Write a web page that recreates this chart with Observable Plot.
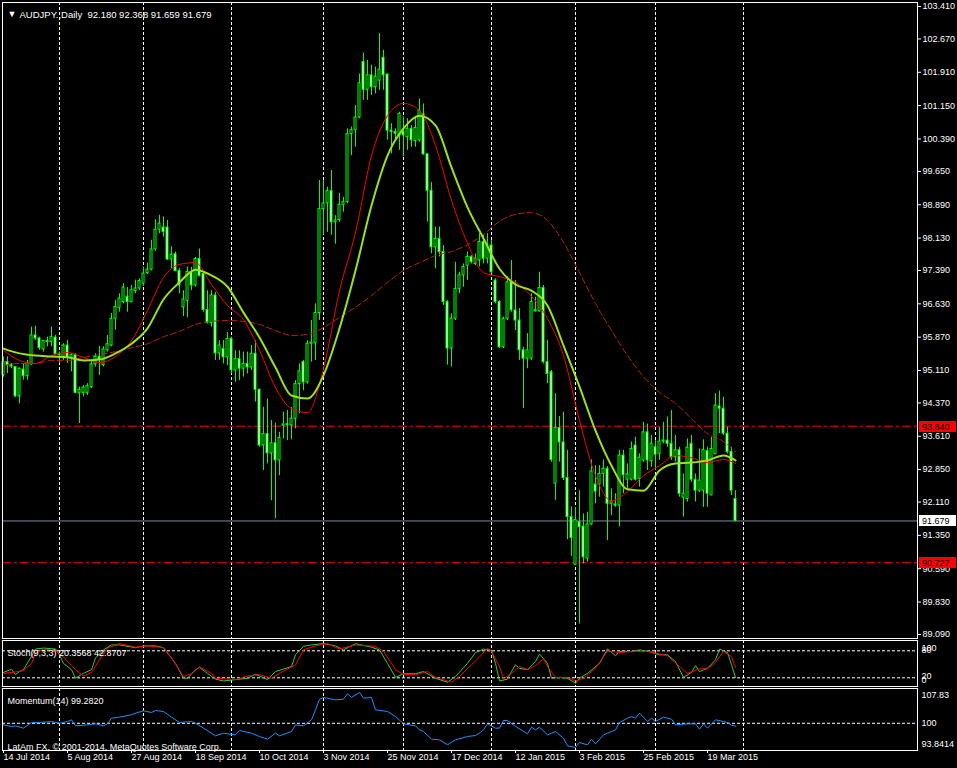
<!DOCTYPE html>
<html><head><meta charset="utf-8">
<script src="https://cdn.jsdelivr.net/npm/d3@7"></script>
<script src="https://cdn.jsdelivr.net/npm/@observablehq/plot@0.6"></script>
<style>
html,body{margin:0;padding:0;background:#000;overflow:hidden;}
#chart{position:relative;width:957px;height:768px;background:#000;overflow:hidden;}
#chart svg{position:absolute;left:0;display:block;}
</style></head><body><div id="chart"></div>
<script>
// ---------- DATA ----------
const opens = [95.00,95.30,95.23,95.19,94.52,95.13,94.98,95.25,95.91,95.84,
95.59,95.78,95.76,95.86,95.49,95.42,95.68,95.40,95.46,94.60,
94.60,94.60,94.73,95.25,95.42,95.23,95.57,95.68,96.29,96.54,
96.67,96.79,96.67,96.92,96.98,97.09,97.33,97.41,97.87,98.32,
98.37,98.37,97.64,97.76,97.38,96.55,96.70,97.35,97.05,97.65,
97.31,96.49,96.19,96.82,95.50,95.60,95.41,95.83,95.11,95.37,
95.15,95.26,95.18,95.49,94.67,93.40,93.66,93.22,93.45,93.06,
93.85,93.88,93.86,94.01,94.80,95.30,94.84,95.72,95.73,96.42,
98.79,98.92,99.20,98.49,98.54,98.89,98.95,100.50,100.59,100.88,
102.14,101.51,101.84,101.57,101.72,102.24,101.86,100.58,100.55,100.47,
100.55,100.43,100.62,100.34,100.36,100.96,100.04,99.21,97.92,98.11,
97.81,96.67,95.61,96.29,96.97,97.28,97.50,97.70,97.54,97.62,
98.04,97.66,97.96,97.16,96.67,95.64,96.29,97.12,96.48,96.25,
95.57,95.38,95.38,96.46,96.46,96.99,95.30,95.07,92.53,93.80,
93.47,92.66,91.77,90.68,91.65,91.55,90.82,91.60,92.51,92.51,
92.75,92.87,92.07,92.05,92.03,93.17,92.62,92.62,93.40,92.64,
93.06,93.70,93.04,93.36,93.21,93.49,93.51,93.44,93.13,93.29,
92.21,92.18,93.44,92.62,92.37,92.37,93.27,92.26,93.20,94.29,
94.24,93.67,93.25,92.18];
const highs = [95.42,95.42,95.27,95.20,95.17,95.27,95.34,96.10,96.12,95.87,
95.80,95.87,96.10,95.91,95.53,95.72,95.80,95.49,95.49,94.73,
94.77,94.81,95.34,95.49,95.66,95.65,95.91,96.41,96.71,96.86,
97.09,97.00,97.05,97.17,97.20,97.47,97.56,98.08,98.55,98.65,
98.61,98.53,97.93,97.81,97.43,96.93,97.47,97.46,97.69,97.88,
97.33,96.93,96.93,96.89,95.79,95.79,95.98,95.87,95.56,95.56,
95.53,95.53,95.68,95.79,94.69,94.27,94.46,93.97,93.91,93.70,
94.16,94.20,94.27,94.88,95.26,95.34,95.79,96.25,96.63,99.44,
99.44,99.29,99.67,98.64,99.15,99.06,100.62,100.66,101.15,101.87,
102.35,102.18,102.07,102.03,102.79,102.41,101.87,100.74,100.62,101.00,
100.89,100.85,100.70,100.89,101.30,101.19,100.05,99.40,98.38,98.38,
97.96,96.71,96.40,97.58,97.35,97.54,97.81,97.73,97.77,98.23,
98.19,98.23,98.07,97.20,96.71,96.33,97.24,97.62,97.16,96.52,
95.64,95.95,96.86,96.78,97.35,97.05,95.80,95.11,94.58,94.06,
94.16,93.29,92.00,91.99,92.37,91.84,91.88,93.07,92.94,92.94,
93.07,92.92,92.41,92.30,93.29,93.29,92.98,93.48,93.59,93.21,
93.93,93.89,93.63,93.51,93.82,93.93,94.05,94.20,93.63,93.36,
92.75,93.55,93.63,92.75,93.32,93.53,93.36,93.59,94.58,94.64,
94.50,93.82,93.36,92.368];
const lows = [94.96,95.04,95.15,94.49,94.35,94.89,94.89,95.23,95.80,95.57,
95.53,95.65,95.65,95.46,95.27,95.34,95.27,95.08,94.58,93.90,
94.51,94.54,94.70,95.19,95.00,95.19,95.53,95.65,96.03,96.44,
96.63,96.44,96.65,96.86,96.94,97.03,97.30,97.38,97.83,98.23,
98.15,97.62,97.43,97.36,96.86,96.34,96.31,96.93,97.01,97.24,
96.44,96.17,96.10,95.34,95.34,95.26,95.22,95.03,94.84,94.88,
94.96,95.03,95.11,94.39,93.36,92.83,92.98,92.14,91.73,92.71,
93.55,93.51,93.53,93.78,94.12,94.65,94.80,95.30,95.34,96.25,
98.19,98.26,98.19,97.99,98.49,98.72,98.91,100.01,100.20,100.85,
101.27,101.27,101.38,101.42,101.50,101.50,100.36,100.05,100.36,100.13,
99.98,100.13,100.20,100.20,100.32,100.01,98.49,97.77,97.43,97.70,
96.59,95.23,95.19,96.25,96.86,97.01,97.16,97.54,97.50,97.47,
97.54,97.54,97.31,96.63,95.61,95.61,96.25,96.44,96.02,95.34,
94.24,95.15,95.34,96.44,96.44,95.26,94.81,93.02,92.15,93.02,
92.60,91.25,90.87,90.66,89.33,90.70,90.74,91.58,92.07,92.22,
92.45,91.23,91.80,91.99,91.54,92.30,92.37,92.59,92.59,92.45,
93.02,92.83,92.90,92.83,93.06,93.44,93.36,93.06,93.02,92.22,
91.77,92.11,92.56,92.11,92.33,91.99,91.99,92.26,93.20,93.67,
93.63,93.21,92.26,91.659];
const closes = [95.30,95.23,95.20,94.52,95.15,94.98,95.27,95.91,95.84,95.62,
95.78,95.76,95.87,95.49,95.46,95.68,95.40,95.46,94.60,94.67,
94.72,94.75,95.25,95.42,95.36,95.59,95.71,96.29,96.56,96.75,
97.00,96.67,96.94,96.98,97.15,97.32,97.41,97.87,98.32,98.46,
98.27,97.64,97.75,97.38,97.05,96.73,97.36,97.05,97.65,97.27,
96.49,96.19,96.82,95.50,95.68,95.41,95.83,95.11,95.37,95.15,
95.26,95.18,95.49,94.67,93.40,93.66,93.22,93.45,93.06,93.57,
93.88,93.86,94.01,94.80,95.09,94.84,95.72,95.75,96.42,98.79,
98.92,99.20,98.49,98.53,98.89,98.95,100.50,100.59,100.88,101.66,
101.51,101.84,101.57,101.81,101.97,101.84,100.58,100.55,100.51,100.96,
100.47,100.62,100.36,100.64,101.04,100.04,99.21,97.92,98.11,97.81,
96.67,95.61,96.29,96.97,97.28,97.47,97.70,97.58,97.66,98.04,
97.66,97.96,97.35,96.67,95.64,96.29,97.12,96.48,96.25,95.57,
95.38,95.57,96.67,96.49,96.99,95.30,95.03,93.07,93.80,93.47,
92.66,91.77,91.29,91.70,91.54,90.85,91.60,92.81,92.35,92.75,
92.87,92.07,92.13,92.03,93.17,92.72,92.74,93.32,92.62,93.12,
93.70,93.06,93.44,93.19,93.49,93.51,93.44,93.13,93.29,92.30,
92.30,93.35,92.62,92.37,92.60,93.30,92.30,93.32,94.31,94.24,
93.67,93.25,92.37,91.679];

// moving averages at every 4th bar
const maBars = [0,4,8,12,16,20,24,28,32,36,40,44,48,52,56,60,64,68,72,76,80,84,88,92,96,100,104,108,112,116,120,124,128,132,136,140,144,148,152,156,160,164,168,172,176,180,183];
const maSlow = [95.61,95.50,95.45,95.43,95.41,95.34,95.36,95.50,95.72,96.07,96.73,97.12,97.41,97.28,97.02,96.43,95.86,95.18,94.54,94.47,95.00,96.07,97.39,98.87,100.01,100.63,100.92,100.70,99.74,98.83,98.12,97.43,97.07,96.93,96.59,95.68,94.74,93.74,92.94,92.40,92.37,92.83,92.99,93.01,93.06,93.17,93.06];
const maFast = [95.57,95.34,95.27,95.45,95.52,95.41,95.29,95.43,95.79,96.48,97.23,97.53,97.57,97.07,96.59,96.27,95.57,94.72,94.24,94.15,95.15,96.93,98.26,100.01,100.92,101.20,101.04,100.24,98.99,98.01,97.34,97.25,97.12,96.80,96.29,95.45,93.97,92.71,92.14,92.35,92.71,92.94,93.17,93.12,93.01,93.08,92.99];
const maLong = [95.22,95.27,95.27,95.34,95.34,95.41,95.47,95.54,95.63,95.72,95.88,96.00,96.16,96.23,96.25,96.23,96.16,96.02,95.91,95.93,96.09,96.32,96.55,96.82,97.12,97.39,97.57,97.73,97.82,97.98,98.21,98.51,98.67,98.71,98.53,98.03,97.34,96.64,96.02,95.45,94.97,94.61,94.36,94.01,93.67,93.49,93.26];

// stochastic (9,3,3)
const kBars = [0,2,3,4,5,7,8,10,13,14,15,17,18,20,22,23,25,27,29,33,35,38,40,43,45,46,48,49,51,53,55,58,61,63,66,68,72,73,75,77,80,83,85,88,92,94,96,98,100,103,105,108,111,113,116,118,120,122,123,124,126,127,128,129,131,133,134,136,137,139,141,143,144,146,149,151,153,154,157,159,161,164,166,168,170,172,173,174,176,178,179,181,182,183];
const kVals = [32,39,27,34,38,68,84,86,84,71,52,38,19,30,38,64,82,93,93,87,91,91,87,52,19,19,38,43,30,17,13,16,19,28,16,34,45,71,90,93,96,91,82,96,88,82,52,21,29,29,34,19,10,23,52,76,84,81,52,13,17,34,49,41,38,56,73,52,19,21,19,8,19,30,52,84,69,79,78,82,79,71,71,56,21,32,47,34,41,60,84,76,49,20.3568];
const dBars = [0,3,5,7,8,10,13,15,18,20,22,24,26,29,33,36,40,42,45,47,49,52,53,58,61,64,67,69,73,75,78,81,84,88,93,95,98,100,103,106,108,112,114,117,119,121,122,124,125,127,129,131,133,135,136,138,141,143,145,148,151,154,157,161,164,166,169,171,174,176,178,180,182,183];
const dVals = [30,33,36,52,75,84,81,66,38,24,32,60,86,96,88,91,87,64,23,29,44,30,19,16,24,27,19,30,49,82,91,96,84,93,90,79,38,27,27,34,21,10,23,49,66,86,79,45,17,30,45,38,47,62,45,21,21,13,19,41,80,76,79,79,73,69,45,30,40,40,54,79,67,42.8707];

// momentum (14)
const mBars = [0,2,3,5,7,9,12,14,16,17,18,21,23,25,26,27,29,32,33,35,37,38,40,42,44,47,48,50,53,55,58,59,62,64,66,68,69,72,73,75,77,78,79,80,83,85,86,87,89,90,92,93,96,98,100,103,104,105,107,109,111,113,116,118,119,120,121,123,124,125,126,128,131,132,133,134,136,137,138,140,141,143,144,146,147,148,150,151,153,154,156,157,158,159,161,162,163,165,167,168,171,173,174,175,176,178,180,181,182,183];
const mVals = [99.60,99.18,99.35,98.76,100.2,100.2,100.45,100.0,100.45,100.88,99.35,99.60,99.86,99.35,99.86,101.3,101.56,102.16,102.57,103.17,102.74,103.25,103.0,101.56,100.2,100.45,100.03,98.76,96.81,97.48,97.06,98.16,97.48,96.64,95.96,97.48,96.81,97.91,99.60,99.35,100.88,103.42,106.13,106.56,105.96,106.13,107.49,106.56,107.83,106.39,106.56,103.42,103.0,101.73,99.86,99.35,98.33,97.91,95.96,95.79,94.52,95.79,96.64,96.9,97.5,98.33,99.86,98.76,98.76,100.71,100.71,99.18,97.31,99.01,98.33,99.01,97.06,97.48,97.91,96.21,94.26,93.8414,95.11,94.52,95.96,94.77,97.06,97.48,98.33,100.2,101.3,101.73,101.3,102.57,100.45,101.3,100.45,101.56,101.05,99.60,99.86,99.86,98.50,99.86,98.76,100.88,100.45,100.2,99.5,99.282];

// axes / labels
const priceTicks = [103.41,102.67,101.91,101.15,100.39,99.65,98.89,98.13,97.39,96.63,95.87,95.11,94.37,93.61,92.85,92.11,91.35,90.59,89.83,89.09];
const dateTickBars = [0,16,32,48,64,80,96,112,128,144,160,176];
const dateLabels = ["14 Jul 2014","5 Aug 2014","27 Aug 2014","18 Sep 2014","10 Oct 2014","3 Nov 2014","25 Nov 2014","17 Dec 2014","12 Jan 2015","3 Feb 2015","25 Feb 2015","19 Mar 2015"];
const monthStartBars = [14,35,57,80,100,122,143,163,185];
const levelLines = [93.840, 90.727];
const lastPrice = 91.679;
const titleText = "AUDJPY.,Daily\u00a0\u00a092.180 92.368 91.659 91.679";
const stochTitle = "Stoch(9,3,3) 20.3568 42.8707";
const momTitle = "Momentum(14) 99.2820";
const copyright = "LatAm FX, \u00a9 2001-2014, MetaQuotes Software Corp.";

// ---------- BUILD ----------
const bars = opens.map((o,i)=>({i, o, h:highs[i], l:lows[i], c:closes[i]}));
const maRows = maBars.map((b,j)=>({i:b, slow:maSlow[j], fast:maFast[j], long:maLong[j]}));
const kRows = kBars.map((b,j)=>({i:b, v:kVals[j]}));
const dRows = dBars.map((b,j)=>({i:b, v:dVals[j]}));
const mRows = mBars.map((b,j)=>({i:b, v:mVals[j]}));

const FONT = '"Liberation Sans", Arial, sans-serif';
const style = {background:"transparent", color:"#fff", fontFamily:FONT, fontSize:"9px"};
const xs = {type:"linear", domain:[0,183], range:[3,735]};
const grid = {x:d=>d, stroke:"#fff", strokeDasharray:"3,2", strokeWidth:1};
const txt = {fill:"#fff", fontSize:9, textAnchor:"start"};
const sideLabel = (v, t, dy) => Plot.text([v], {y:d=>d, text:()=>t, frameAnchor:"right", dx:4, dy, ...txt});

const chart = document.getElementById("chart");

const main = Plot.plot({
  width:957, height:640, marginTop:2, marginBottom:2, marginLeft:2, marginRight:40,
  style,
  x:{...xs, axis:null},
  y:{domain:[89.09,103.41], range:[634,6], axis:"right", ticks:priceTicks, tickFormat:d=>d.toFixed(3), tickSize:3, tickPadding:2, label:null},
  color:{type:"identity"},
  marks:[
    Plot.ruleX(monthStartBars, grid),
    Plot.ruleY(levelLines, {y:d=>d, stroke:"#ff0000", strokeDasharray:"9,3,3,3"}),
    Plot.ruleY([lastPrice], {y:d=>d, stroke:"#7f8c9c"}),
    Plot.ruleX(bars, {x:"i", y1:"l", y2:"h", stroke:"#00ff00"}),
    Plot.rect(bars, {
      x1:d=>d.i-0.25, x2:d=>d.i+0.25,
      y1:d=>Math.min(d.o,d.c), y2:d=>Math.max(Math.max(d.o,d.c), Math.min(d.o,d.c)+0.025),
      fill:d=>d.c<d.o ? "#ffffff" : "#000000", stroke:"#00ff00", strokeWidth:1
    }),
    Plot.line(maRows, {x:"i", y:"long", stroke:"#b8221f", strokeWidth:1, strokeDasharray:"6,3", curve:"monotone-x"}),
    Plot.line(maRows, {x:"i", y:"fast", stroke:"#ff0000", strokeWidth:1, curve:"monotone-x"}),
    Plot.line(maRows, {x:"i", y:"slow", stroke:"#9be21c", strokeWidth:2, curve:"monotone-x"}),
    Plot.frame({stroke:"#fff"}),
    Plot.text(["\u25BC"], {text:d=>d, frameAnchor:"top-left", dx:5, dy:8.5, fill:"#fff", fontSize:9, textAnchor:"start"}),
    Plot.text([titleText], {text:d=>d, frameAnchor:"top-left", dx:17, dy:9, ...txt, fontSize:9.5})
  ]
});
main.style.top = "0px";
chart.appendChild(main);

// price tags on the right scale
const yPix = d3.scaleLinear().domain([89.09,103.41]).range([634,6]);
const tags = [{v:levelLines[0], bg:"#ff0000"}, {v:lastPrice, bg:"#ffffff"}, {v:levelLines[1], bg:"#ff0000"}];
const tg = d3.select(main).append("g").attr("text-anchor","start");
tags.forEach(t=>{
  const y = Math.round(yPix(t.v));
  tg.append("rect").attr("x",919).attr("y",y-5).attr("width",37).attr("height",11).attr("fill",t.bg);
  tg.append("text").attr("x",922).attr("y",y+0.5).attr("dy","0.36em").attr("fill","#000")
    .attr("text-anchor","start").attr("font-family",FONT).attr("font-size",9).text(t.v.toFixed(3));
});

const stoch = Plot.plot({
  width:957, height:48, marginTop:0, marginBottom:2, marginLeft:2, marginRight:40,
  style,
  x:{...xs, axis:null},
  y:{domain:[0,100], range:[46.3,1.3], axis:null},
  marks:[
    Plot.ruleX(monthStartBars, grid),
    Plot.ruleY([80,20], {y:d=>d, stroke:"#fff", strokeDasharray:"3,2"}),
    Plot.line(kRows, {x:"i", y:"v", stroke:"#32cd32", strokeWidth:1}),
    Plot.line(dRows, {x:"i", y:"v", stroke:"#ff0000", strokeWidth:1}),
    Plot.frame({stroke:"#fff"}),
    Plot.text([stochTitle], {text:d=>d, frameAnchor:"top-left", dx:5, dy:9.5, ...txt}),
    sideLabel(100, "100", 6.5),
    sideLabel(80, "80", -0.5),
    sideLabel(20, "20", -1.5),
    sideLabel(0, "0", -6.5)
  ]
});
stoch.style.top = "640px";
chart.appendChild(stoch);

const mom = Plot.plot({
  width:957, height:80, marginTop:0, marginBottom:18, marginLeft:2, marginRight:40,
  style,
  x:{...xs, axis:"bottom", ticks:dateTickBars, tickFormat:()=>"", tickSize:3, label:null},
  y:{domain:[93.8414,107.83], range:[59,4], axis:null},
  marks:[
    Plot.ruleX(monthStartBars, grid),
    Plot.ruleY([100], {y:d=>d, stroke:"#fff", strokeDasharray:"3,2"}),
    Plot.line(mRows, {x:"i", y:"v", stroke:"#1e90ff", strokeWidth:1}),
    Plot.frame({stroke:"#fff"}),
    Plot.text([momTitle], {text:d=>d, frameAnchor:"top-left", dx:5, dy:9.5, ...txt}),
    Plot.text([copyright], {text:d=>d, frameAnchor:"top-left", dx:5, dy:55, ...txt}),
    sideLabel(107.83, "107.83", 3),
    sideLabel(100, "100", 0),
    sideLabel(93.8414, "93.8414", -3),
    Plot.text(dateTickBars, {x:d=>d, text:(d,j)=>dateLabels[j], frameAnchor:"bottom", dy:9.5, ...txt})
  ]
});
mom.style.top = "688px";
chart.appendChild(mom);
</script></body></html>
